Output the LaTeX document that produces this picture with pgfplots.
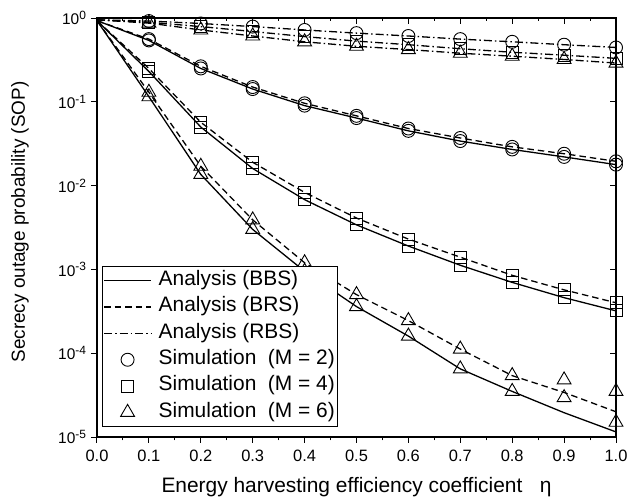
\documentclass[border=0pt]{standalone}
\usepackage{pgfplots}
\pgfplotsset{compat=1.18}
\usepackage{fontspec}
\setmainfont{Liberation Sans}
\begin{document}
\begin{tikzpicture}
\begin{axis}[name=ax,
  scale only axis, width=519bp, height=419bp,
  xmin=0, xmax=1, ymin=1e-5, ymax=1, ymode=log, log basis y=10,
  xtick={0,0.1,0.2,0.3,0.4,0.5,0.6,0.7,0.8,0.9,1.0}, minor x tick num=1,
  ytick={1e-5,1e-4,1e-3,1e-2,1e-1,1},
  major tick length=6bp, minor tick length=3.5bp,
  axis line style={line width=1.3bp},
  every tick/.style={black, line width=1bp},
  tick pos=left, tick align=outside,
  xticklabels={0.0,0.1,0.2,0.3,0.4,0.5,0.6,0.7,0.8,0.9,1.0},
  yticklabel={10\textsuperscript{\fontsize{12}{14}\selectfont\pgfmathparse{int(round(\tick))}\pgfmathresult}},
  xticklabel style={font=\fontsize{16.5}{19}\selectfont},
  xticklabel shift=4bp,
  yticklabel style={font=\fontsize{15.5}{18}\selectfont},
  yticklabel shift=1bp,
  xlabel={Energy harvesting efficiency coefficient\ \ \ η},
  ylabel={Secrecy outage probability (SOP)},
  xlabel style={font=\fontsize{21}{24}\selectfont, at={(axis description cs:0.5,-0.119)}, anchor=center},
  ylabel style={font=\fontsize{19}{22}\selectfont, at={(axis description cs:-0.1484,0.513)}, anchor=center},
  legend image code/.code={\draw[mark repeat=2,mark phase=2,#1] plot coordinates {(0bp,0bp) (23.5bp,0bp) (47bp,0bp)};},
  legend style={at={(0.0096,0.024)}, anchor=south west, draw=black, line width=0.9bp, fill=white,
    font=\fontsize{21}{24}\selectfont, inner sep=1bp, column sep=5bp,
    nodes={text height=14.5bp, text depth=5bp, inner ysep=3.4bp}},
  legend cell align=left,
]
% analysis curves
\addplot[black, line width=1.3bp, no markers, forget plot] coordinates {(0,0.93)(0.1,0.54)(0.2,0.25)(0.3,0.142)(0.4,0.090)(0.5,0.064)(0.6,0.045)(0.7,0.034)(0.8,0.027)(0.9,0.022)(1.0,0.0178)};
\addplot[black, line width=1.3bp, no markers, dash pattern=on 6.5bp off 4bp, forget plot] coordinates {(0,0.93)(0.1,0.56)(0.2,0.265)(0.3,0.150)(0.4,0.096)(0.5,0.068)(0.6,0.048)(0.7,0.037)(0.8,0.029)(0.9,0.024)(1.0,0.0195)};
\addplot[black, line width=1.3bp, no markers, dash pattern=on 8bp off 3bp on 1.5bp off 3bp, forget plot] coordinates {(0,0.95)(0.1,0.92)(0.2,0.86)(0.3,0.79)(0.4,0.72)(0.5,0.66)(0.6,0.61)(0.7,0.56)(0.8,0.52)(0.9,0.48)(1.0,0.445)};
\addplot[black, line width=1.3bp, no markers, forget plot] coordinates {(0,0.93)(0.1,0.23)(0.2,0.050)(0.3,0.016)(0.4,0.0068)(0.5,0.0034)(0.6,0.0019)(0.7,0.00112)(0.8,0.0007)(0.9,0.00046)(1.0,0.00032)};
\addplot[black, line width=1.3bp, no markers, dash pattern=on 6.5bp off 4bp, forget plot] coordinates {(0,0.93)(0.1,0.25)(0.2,0.057)(0.3,0.019)(0.4,0.0083)(0.5,0.0041)(0.6,0.0023)(0.7,0.0014)(0.8,0.00085)(0.9,0.00057)(1.0,0.0004)};
\addplot[black, line width=1.3bp, no markers, dash pattern=on 8bp off 3bp on 1.5bp off 3bp, forget plot] coordinates {(0,0.95)(0.1,0.89)(0.2,0.79)(0.3,0.69)(0.4,0.60)(0.5,0.53)(0.6,0.48)(0.7,0.43)(0.8,0.39)(0.9,0.36)(1.0,0.33)};
\addplot[black, line width=1.3bp, no markers, forget plot] coordinates {(0,0.93)(0.1,0.115)(0.2,0.0136)(0.3,0.003)(0.4,0.00095)(0.5,0.00036)(0.6,0.00016)(0.7,0.000065)(0.8,0.000035)(0.9,0.0000195)(1.0,0.0000115)};
\addplot[black, line width=1.3bp, no markers, dash pattern=on 6.5bp off 4bp, forget plot] coordinates {(0,0.93)(0.1,0.13)(0.2,0.017)(0.3,0.0039)(0.4,0.0012)(0.5,0.0005)(0.6,0.000245)(0.7,0.000112)(0.8,0.000054)(0.9,0.000034)(1.0,0.00002)};
\addplot[black, line width=1.3bp, no markers, dash pattern=on 8bp off 3bp on 1.5bp off 3bp, forget plot] coordinates {(0,0.95)(0.1,0.87)(0.2,0.72)(0.3,0.61)(0.4,0.52)(0.5,0.46)(0.6,0.42)(0.7,0.38)(0.8,0.35)(0.9,0.32)(1.0,0.29)};
% simulation markers
\addplot[black, only marks, mark=o, mark size=6.5bp, mark options={solid, fill=white, line width=0.9bp}, forget plot] coordinates {(0.1,0.54)(0.2,0.25)(0.3,0.142)(0.4,0.090)(0.5,0.064)(0.6,0.045)(0.7,0.034)(0.8,0.027)(0.9,0.022)(1.0,0.0178)};
\addplot[black, only marks, mark=o, mark size=6.5bp, mark options={solid, fill=white, line width=0.9bp}, forget plot] coordinates {(0.1,0.56)(0.2,0.265)(0.3,0.150)(0.4,0.096)(0.5,0.068)(0.6,0.048)(0.7,0.037)(0.8,0.029)(0.9,0.024)(1.0,0.0195)};
\addplot[black, only marks, mark=o, mark size=6.5bp, mark options={solid, fill=white, line width=0.9bp}, forget plot] coordinates {(0.1,0.92)(0.2,0.86)(0.3,0.79)(0.4,0.72)(0.5,0.66)(0.6,0.61)(0.7,0.56)(0.8,0.52)(0.9,0.48)(1.0,0.445)};
\addplot[black, only marks, mark=square, mark size=6bp, mark options={solid, fill=white, line width=0.9bp}, forget plot] coordinates {(0.1,0.23)(0.2,0.050)(0.3,0.016)(0.4,0.0068)(0.5,0.0034)(0.6,0.0019)(0.7,0.00112)(0.8,0.0007)(0.9,0.00046)(1.0,0.00032)};
\addplot[black, only marks, mark=square, mark size=6bp, mark options={solid, fill=white, line width=0.9bp}, forget plot] coordinates {(0.1,0.25)(0.2,0.057)(0.3,0.019)(0.4,0.0083)(0.5,0.0041)(0.6,0.0023)(0.7,0.0014)(0.8,0.00085)(0.9,0.00057)(1.0,0.0004)};
\addplot[black, only marks, mark=square, mark size=6bp, mark options={solid, fill=white, line width=0.9bp}, forget plot] coordinates {(0.1,0.89)(0.2,0.79)(0.3,0.69)(0.4,0.60)(0.5,0.53)(0.6,0.48)(0.7,0.43)(0.8,0.39)(0.9,0.36)(1.0,0.33)};
\addplot[black, only marks, mark=triangle, mark size=8bp, mark options={solid, fill=white, line width=0.9bp}, forget plot] coordinates {(0.1,0.115)(0.2,0.0136)(0.3,0.003)(0.4,0.00095)(0.5,0.00036)(0.6,0.00016)(0.7,0.000065)(0.8,0.000035)(0.9,0.0000295)(1.0,0.000015)};
\addplot[black, only marks, mark=triangle, mark size=8bp, mark options={solid, fill=white, line width=0.9bp}, forget plot] coordinates {(0.1,0.13)(0.2,0.017)(0.3,0.0039)(0.4,0.0012)(0.5,0.0005)(0.6,0.000245)(0.7,0.000112)(0.8,0.000054)(0.9,0.000048)(1.0,0.000035)};
\addplot[black, only marks, mark=triangle, mark size=8bp, mark options={solid, fill=white, line width=0.9bp}, forget plot] coordinates {(0.1,0.87)(0.2,0.72)(0.3,0.61)(0.4,0.52)(0.5,0.46)(0.6,0.42)(0.7,0.38)(0.8,0.35)(0.9,0.32)(1.0,0.29)};
% legend
\addlegendimage{black, line width=1.3bp}
\addlegendentry{Analysis (BBS)}
\addlegendimage{black, line width=1.3bp, dash pattern=on 6.5bp off 4bp}
\addlegendentry{Analysis (BRS)}
\addlegendimage{black, line width=1.3bp, dash pattern=on 8bp off 3bp on 1.5bp off 3bp}
\addlegendentry{Analysis (RBS)}
\addlegendimage{black, only marks, mark=o, mark size=6.5bp, mark options={solid, fill=white, line width=0.9bp}}
\addlegendentry{Simulation\ \ (M = 2)}
\addlegendimage{black, only marks, mark=square, mark size=6bp, mark options={solid, fill=white, line width=0.9bp}}
\addlegendentry{Simulation\ \ (M = 4)}
\addlegendimage{black, only marks, mark=triangle, mark size=8bp, mark options={solid, fill=white, line width=0.9bp}}
\addlegendentry{Simulation\ \ (M = 6)}
\end{axis}
\begin{axis}[scale only axis, width=519bp, height=419bp,
  xmin=0, xmax=1, ymin=1e-5, ymax=1, ymode=log, log basis y=10,
  xtick={0,0.1,0.2,0.3,0.4,0.5,0.6,0.7,0.8,0.9,1.0}, minor x tick num=1,
  ytick={1e-5,1e-4,1e-3,1e-2,1e-1,1},
  major tick length=6bp, minor tick length=3.5bp,
  axis line style={line width=1.3bp},
  every tick/.style={black, line width=1bp},
  tick pos=right, tick align=inside,
  xticklabels={}, yticklabels={}]
\addplot[draw=none, forget plot] coordinates {(0,0.1)(1,0.1)};
\end{axis}
\pgfresetboundingbox
\path[use as bounding box] ([shift={(-97bp,-64bp)}]ax.south west) rectangle ([shift={(15bp,18bp)}]ax.north east);
\end{tikzpicture}
\end{document}
